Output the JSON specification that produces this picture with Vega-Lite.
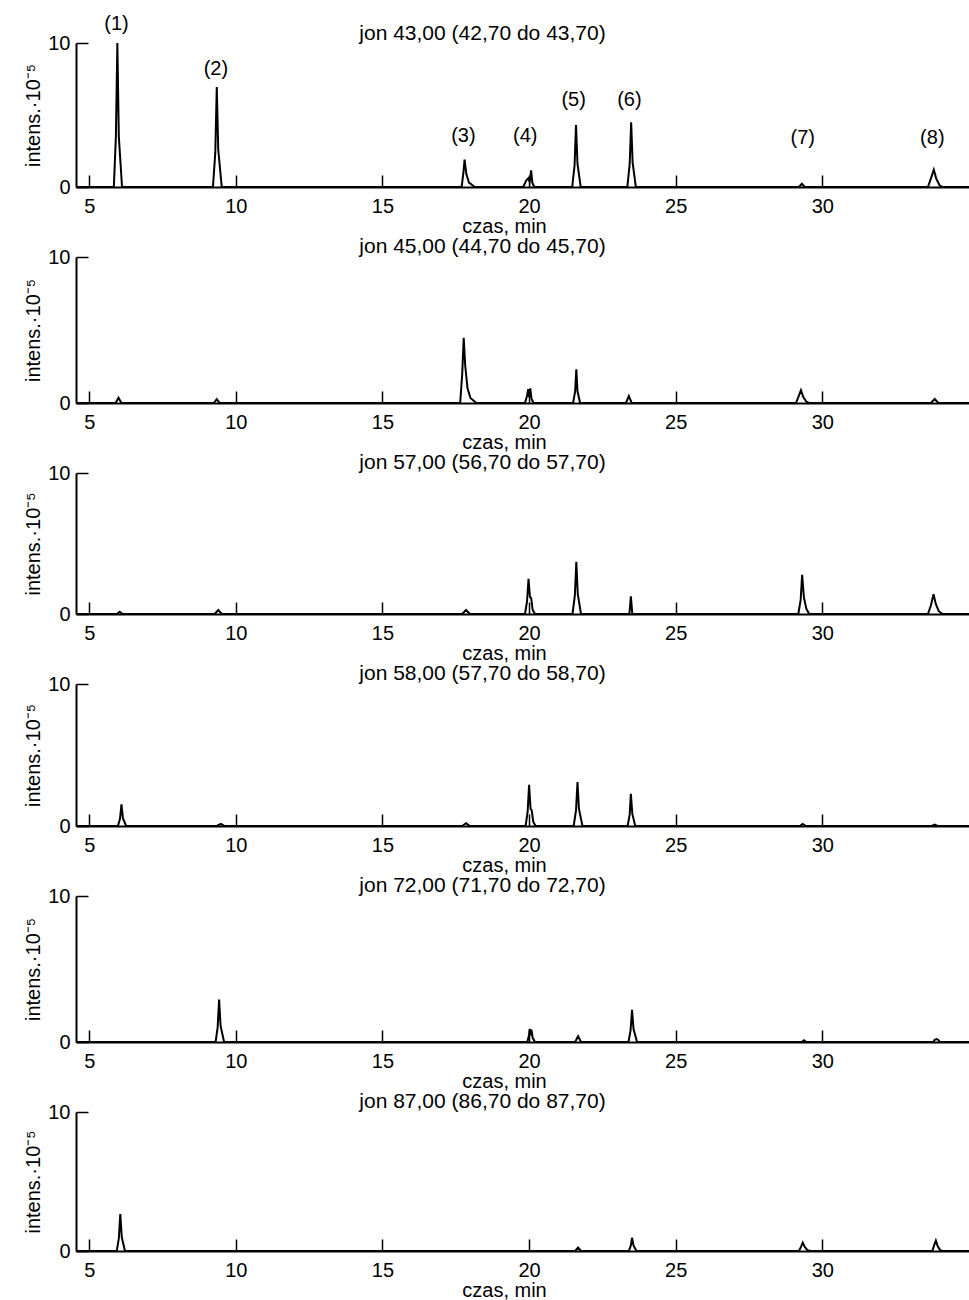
{
  "$schema": "https://vega.github.io/schema/vega-lite/v6.json",
  "background": "white",
  "padding": {"left": 23, "top": 14, "right": 0, "bottom": 0},
  "spacing": 0,
  "datasets": {
    "j43": [
      {"t":4.55,"i":0},
      {"t":5.84,"i":0},{"t":5.91,"i":3.5},{"t":5.96,"i":10},{"t":6.01,"i":3.5},{"t":6.12,"i":0},
      {"t":9.22,"i":0},{"t":9.3,"i":2.4},{"t":9.35,"i":6.95},{"t":9.4,"i":2.6},{"t":9.52,"i":0},
      {"t":17.7,"i":0},{"t":17.76,"i":1.0},{"t":17.8,"i":1.9},{"t":17.86,"i":0.9},{"t":17.95,"i":0.3},{"t":18.15,"i":0},
      {"t":19.8,"i":0},{"t":19.9,"i":0.45},{"t":19.97,"i":0.6},{"t":20.02,"i":0.35},{"t":20.07,"i":1.15},{"t":20.11,"i":0.3},{"t":20.18,"i":0},
      {"t":21.47,"i":0},{"t":21.55,"i":1.5},{"t":21.6,"i":4.3},{"t":21.65,"i":1.6},{"t":21.76,"i":0},
      {"t":23.35,"i":0},{"t":23.43,"i":1.6},{"t":23.48,"i":4.5},{"t":23.53,"i":1.7},{"t":23.64,"i":0},
      {"t":29.2,"i":0},{"t":29.3,"i":0.22},{"t":29.4,"i":0},
      {"t":33.6,"i":0},{"t":33.72,"i":0.7},{"t":33.8,"i":1.2},{"t":33.88,"i":0.6},{"t":34.0,"i":0.1},{"t":34.1,"i":0},
      {"t":35.0,"i":0}
    ],
    "lab43": [
      {"t":5.93,"i":11.3,"lab":"(1)"},
      {"t":9.32,"i":8.2,"lab":"(2)"},
      {"t":17.76,"i":3.56,"lab":"(3)"},
      {"t":19.87,"i":3.56,"lab":"(4)"},
      {"t":21.52,"i":6.04,"lab":"(5)"},
      {"t":23.42,"i":6.04,"lab":"(6)"},
      {"t":29.33,"i":3.4,"lab":"(7)"},
      {"t":33.75,"i":3.4,"lab":"(8)"}
    ],
    "j45": [
      {"t":4.55,"i":0},
      {"t":5.9,"i":0},{"t":6.0,"i":0.36},{"t":6.1,"i":0},
      {"t":9.25,"i":0},{"t":9.35,"i":0.27},{"t":9.45,"i":0},
      {"t":17.65,"i":0},{"t":17.72,"i":2.0},{"t":17.77,"i":4.47},{"t":17.82,"i":2.6},{"t":17.9,"i":1.0},{"t":18.0,"i":0.35},{"t":18.2,"i":0},
      {"t":19.86,"i":0},{"t":19.93,"i":0.5},{"t":19.97,"i":0.95},{"t":20.0,"i":0.4},{"t":20.04,"i":1.0},{"t":20.08,"i":0.3},{"t":20.15,"i":0},
      {"t":21.5,"i":0},{"t":21.57,"i":0.8},{"t":21.61,"i":2.31},{"t":21.65,"i":0.8},{"t":21.74,"i":0},
      {"t":23.3,"i":0},{"t":23.4,"i":0.48},{"t":23.5,"i":0},
      {"t":29.1,"i":0},{"t":29.2,"i":0.5},{"t":29.27,"i":0.88},{"t":29.35,"i":0.4},{"t":29.45,"i":0.1},{"t":29.55,"i":0},
      {"t":33.7,"i":0},{"t":33.83,"i":0.27},{"t":33.96,"i":0},
      {"t":35.0,"i":0}
    ],
    "j57": [
      {"t":4.55,"i":0},
      {"t":5.94,"i":0},{"t":6.04,"i":0.16},{"t":6.14,"i":0},
      {"t":9.28,"i":0},{"t":9.4,"i":0.28},{"t":9.52,"i":0},
      {"t":17.72,"i":0},{"t":17.85,"i":0.28},{"t":17.98,"i":0},
      {"t":19.86,"i":0},{"t":19.93,"i":0.9},{"t":19.98,"i":2.5},{"t":20.03,"i":1.2},{"t":20.07,"i":1.13},{"t":20.12,"i":0.3},{"t":20.2,"i":0},
      {"t":21.48,"i":0},{"t":21.56,"i":1.3},{"t":21.61,"i":3.7},{"t":21.66,"i":1.4},{"t":21.77,"i":0},
      {"t":23.42,"i":0},{"t":23.47,"i":1.26},{"t":23.52,"i":0},
      {"t":29.18,"i":0},{"t":29.26,"i":1.0},{"t":29.31,"i":2.78},{"t":29.37,"i":1.2},{"t":29.45,"i":0.4},{"t":29.55,"i":0},
      {"t":33.6,"i":0},{"t":33.7,"i":0.6},{"t":33.79,"i":1.4},{"t":33.87,"i":0.7},{"t":33.97,"i":0.2},{"t":34.1,"i":0},
      {"t":35.0,"i":0}
    ],
    "j58": [
      {"t":4.55,"i":0},
      {"t":5.98,"i":0},{"t":6.05,"i":0.5},{"t":6.1,"i":1.52},{"t":6.15,"i":0.55},{"t":6.26,"i":0},
      {"t":9.35,"i":0},{"t":9.49,"i":0.15},{"t":9.62,"i":0},
      {"t":17.72,"i":0},{"t":17.85,"i":0.2},{"t":17.98,"i":0},
      {"t":19.88,"i":0},{"t":19.95,"i":1.0},{"t":20.0,"i":2.9},{"t":20.05,"i":1.2},{"t":20.09,"i":1.1},{"t":20.14,"i":0.3},{"t":20.22,"i":0},
      {"t":21.52,"i":0},{"t":21.6,"i":1.1},{"t":21.65,"i":3.1},{"t":21.7,"i":1.2},{"t":21.82,"i":0},
      {"t":23.36,"i":0},{"t":23.43,"i":0.8},{"t":23.47,"i":2.27},{"t":23.52,"i":0.85},{"t":23.62,"i":0},
      {"t":29.23,"i":0},{"t":29.33,"i":0.15},{"t":29.43,"i":0},
      {"t":33.73,"i":0},{"t":33.83,"i":0.1},{"t":33.93,"i":0},
      {"t":35.0,"i":0}
    ],
    "j72": [
      {"t":4.55,"i":0},
      {"t":9.31,"i":0},{"t":9.38,"i":1.0},{"t":9.43,"i":2.9},{"t":9.48,"i":1.1},{"t":9.6,"i":0},
      {"t":19.94,"i":0},{"t":20.0,"i":0.5},{"t":20.02,"i":0.9},{"t":20.05,"i":0.45},{"t":20.08,"i":0.85},{"t":20.12,"i":0.3},{"t":20.2,"i":0},
      {"t":21.57,"i":0},{"t":21.67,"i":0.4},{"t":21.77,"i":0},
      {"t":23.39,"i":0},{"t":23.46,"i":0.8},{"t":23.51,"i":2.2},{"t":23.56,"i":0.9},{"t":23.68,"i":0},
      {"t":29.3,"i":0},{"t":29.37,"i":0.12},{"t":29.45,"i":0},
      {"t":33.78,"i":0},{"t":33.83,"i":0.15},{"t":33.89,"i":0.2},{"t":33.95,"i":0.15},{"t":34.0,"i":0},
      {"t":35.0,"i":0}
    ],
    "j87": [
      {"t":4.55,"i":0},
      {"t":5.94,"i":0},{"t":6.01,"i":0.9},{"t":6.06,"i":2.65},{"t":6.11,"i":1.0},{"t":6.22,"i":0},
      {"t":21.57,"i":0},{"t":21.67,"i":0.25},{"t":21.77,"i":0},
      {"t":23.4,"i":0},{"t":23.47,"i":0.4},{"t":23.51,"i":0.95},{"t":23.56,"i":0.4},{"t":23.66,"i":0},
      {"t":29.2,"i":0},{"t":29.27,"i":0.3},{"t":29.33,"i":0.6},{"t":29.4,"i":0.3},{"t":29.5,"i":0.05},{"t":29.6,"i":0},
      {"t":33.75,"i":0},{"t":33.81,"i":0.4},{"t":33.87,"i":0.75},{"t":33.93,"i":0.35},{"t":34.02,"i":0.05},{"t":34.1,"i":0},
      {"t":35.0,"i":0}
    ]
  },
  "vconcat": [
    {
      "title": {"text": "jon 43,00 (42,70 do 43,70)", "offset": -30},
      "width": 893, "height": 144,
      "layer": [
        {
          "data": {"name": "j43"},
          "mark": {"type": "line", "color": "black", "strokeWidth": 2},
          "encoding": {
            "x": {"field": "t", "type": "quantitative", "scale": {"domain": [4.55, 35], "nice": false}, "axis": {"values": [5,10,15,20,25,30], "title": "czas, min"}},
            "y": {"field": "i", "type": "quantitative", "scale": {"domain": [0, 10], "nice": false}, "axis": {"values": [0,10], "title": "intens.·10⁻⁵"}}
          }
        },
        {
          "data": {"name": "lab43"},
          "mark": {"type": "text", "fontSize": 20, "font": "Liberation Sans", "color": "black", "baseline": "middle"},
          "encoding": {
            "x": {"field": "t", "type": "quantitative", "scale": {"domain": [4.55, 35], "nice": false}},
            "y": {"field": "i", "type": "quantitative", "scale": {"domain": [0, 10], "nice": false}},
            "text": {"field": "lab"}
          }
        }
      ]
    },
    {
      "title": {"text": "jon 45,00 (44,70 do 45,70)"},
      "width": 893, "height": 146,
      "data": {"name": "j45"},
      "mark": {"type": "line", "color": "black", "strokeWidth": 2},
      "encoding": {
        "x": {"field": "t", "type": "quantitative", "scale": {"domain": [4.55, 35], "nice": false}, "axis": {"values": [5,10,15,20,25,30], "title": "czas, min"}},
        "y": {"field": "i", "type": "quantitative", "scale": {"domain": [0, 10], "nice": false}, "axis": {"values": [0,10], "title": "intens.·10⁻⁵"}}
      }
    },
    {
      "title": {"text": "jon 57,00 (56,70 do 57,70)"},
      "width": 893, "height": 141,
      "data": {"name": "j57"},
      "mark": {"type": "line", "color": "black", "strokeWidth": 2},
      "encoding": {
        "x": {"field": "t", "type": "quantitative", "scale": {"domain": [4.55, 35], "nice": false}, "axis": {"values": [5,10,15,20,25,30], "title": "czas, min"}},
        "y": {"field": "i", "type": "quantitative", "scale": {"domain": [0, 10], "nice": false}, "axis": {"values": [0,10], "title": "intens.·10⁻⁵"}}
      }
    },
    {
      "title": {"text": "jon 58,00 (57,70 do 58,70)"},
      "width": 893, "height": 142,
      "data": {"name": "j58"},
      "mark": {"type": "line", "color": "black", "strokeWidth": 2},
      "encoding": {
        "x": {"field": "t", "type": "quantitative", "scale": {"domain": [4.55, 35], "nice": false}, "axis": {"values": [5,10,15,20,25,30], "title": "czas, min"}},
        "y": {"field": "i", "type": "quantitative", "scale": {"domain": [0, 10], "nice": false}, "axis": {"values": [0,10], "title": "intens.·10⁻⁵"}}
      }
    },
    {
      "title": {"text": "jon 72,00 (71,70 do 72,70)"},
      "width": 893, "height": 146,
      "data": {"name": "j72"},
      "mark": {"type": "line", "color": "black", "strokeWidth": 2},
      "encoding": {
        "x": {"field": "t", "type": "quantitative", "scale": {"domain": [4.55, 35], "nice": false}, "axis": {"values": [5,10,15,20,25,30], "title": "czas, min"}},
        "y": {"field": "i", "type": "quantitative", "scale": {"domain": [0, 10], "nice": false}, "axis": {"values": [0,10], "title": "intens.·10⁻⁵"}}
      }
    },
    {
      "title": {"text": "jon 87,00 (86,70 do 87,70)"},
      "width": 893, "height": 139,
      "data": {"name": "j87"},
      "mark": {"type": "line", "color": "black", "strokeWidth": 2},
      "encoding": {
        "x": {"field": "t", "type": "quantitative", "scale": {"domain": [4.55, 35], "nice": false}, "axis": {"values": [5,10,15,20,25,30], "title": "czas, min"}},
        "y": {"field": "i", "type": "quantitative", "scale": {"domain": [0, 10], "nice": false}, "axis": {"values": [0,10], "title": "intens.·10⁻⁵"}}
      }
    }
  ],
  "config": {
    "view": {"stroke": null},
    "font": "Liberation Sans",
    "title": {"fontSize": 21, "fontWeight": "normal", "font": "Liberation Sans", "color": "black", "offset": -10, "dx": -40, "frame": "group"},
    "axis": {
      "grid": false,
      "domainColor": "black", "domainWidth": 2,
      "tickColor": "black", "tickWidth": 1.5, "tickSize": -12,
      "labelFont": "Liberation Sans", "labelFontSize": 20, "labelColor": "black",
      "titleFont": "Liberation Sans", "titleFontSize": 20, "titleFontWeight": "normal", "titleColor": "black"
    },
    "axisX": {"labelPadding": 21, "titlePadding": 0, "titleX": 428},
    "axisY": {"labelPadding": 18, "titlePadding": 4}
  }
}
